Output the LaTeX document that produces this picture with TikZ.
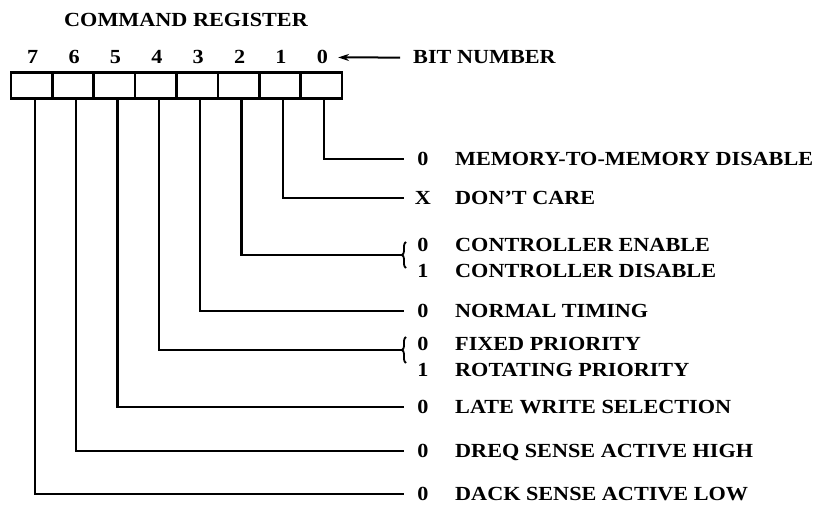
\documentclass[tikz,border=0pt]{standalone}
\usepackage{fontspec}
\setmainfont{Liberation Serif}[FakeStretch=1.11]
\usetikzlibrary{decorations.pathreplacing,arrows.meta}
\begin{document}
\begin{tikzpicture}[x=1pt,y=-1pt,
  txt/.style={font=\fontsize{20}{22}\selectfont\bfseries, inner sep=0pt},
  lbl/.style={txt, anchor=base west},
  dig/.style={txt, anchor=base},
  wire/.style={line width=2.2pt, line join=miter, line cap=rect},
  cellbox/.style={draw, line width=2.5pt, minimum width=41.4pt, minimum height=26pt, inner sep=0pt},
  brc/.style={decorate, decoration={brace, amplitude=4pt}, line width=1.8pt},
  arrowst/.style={line width=2pt, -{Stealth[length=11pt,width=7pt]}}]
\useasboundingbox (0,0) rectangle (825,510);
\fill[white] (0,0) rectangle (825,510);

% title
\node[txt, anchor=base] (title) at (186,27) {COMMAND REGISTER};

% register cells and bit numbers
\foreach \b in {0,...,7}{
  \node[cellbox] (c\b) at ({11+41.375*(7-\b)+20.69},85.5) {};
  \node[dig] (n\b) at ({11+41.375*(7-\b)+20.69+1},64) {\b};
}
\node[lbl] (bitnum) at (413,64) {BIT NUMBER};
\draw[arrowst, shorten <=13pt, shorten >=10pt] (bitnum.west) -- (n0.east);

% label column
\def\dx{423}
\def\tx{455}

% bit 0
\coordinate (e0) at (403,159);
\node[dig] (d0) at (\dx,165.5) {0};
\node[lbl] (t0) at (\tx,165.5) {MEMORY-TO-MEMORY DISABLE};
% bit 1
\coordinate (e1) at (403,198);
\node[dig] (d1) at (\dx,204.5) {X};
\node[lbl] (t1) at (\tx,204.5) {DON'T CARE};
% bit 2
\coordinate (e2) at (402,255);
\draw[brc] (406,268) -- (406,242);
\node[dig] (d2a) at (\dx,252) {0};
\node[lbl] (t2a) at (\tx,252) {CONTROLLER ENABLE};
\node[dig] (d2b) at (\dx,278) {1};
\node[lbl] (t2b) at (\tx,278) {CONTROLLER DISABLE};
% bit 3
\coordinate (e3) at (403,311);
\node[dig] (d3) at (\dx,317.5) {0};
\node[lbl] (t3) at (\tx,317.5) {NORMAL TIMING};
% bit 4
\coordinate (e4) at (402,350);
\draw[brc] (406,363) -- (406,337);
\node[dig] (d4a) at (\dx,351) {0};
\node[lbl] (t4a) at (\tx,351) {FIXED PRIORITY};
\node[dig] (d4b) at (\dx,377) {1};
\node[lbl] (t4b) at (\tx,377) {ROTATING PRIORITY};
% bit 5
\coordinate (e5) at (403,407);
\node[dig] (d5) at (\dx,413.5) {0};
\node[lbl] (t5) at (\tx,413.5) {LATE WRITE SELECTION};
% bit 6
\coordinate (e6) at (403,451);
\node[dig] (d6) at (\dx,457.5) {0};
\node[lbl] (t6) at (\tx,457.5) {DREQ SENSE ACTIVE HIGH};
% bit 7
\coordinate (e7) at (403,494);
\node[dig] (d7) at (\dx,500.5) {0};
\node[lbl] (t7) at (\tx,500.5) {DACK SENSE ACTIVE LOW};

% leader lines
\foreach \b in {0,...,7}{
  \draw[wire] ([xshift=3pt]c\b.south) |- (e\b);
}
\end{tikzpicture}
\end{document}
